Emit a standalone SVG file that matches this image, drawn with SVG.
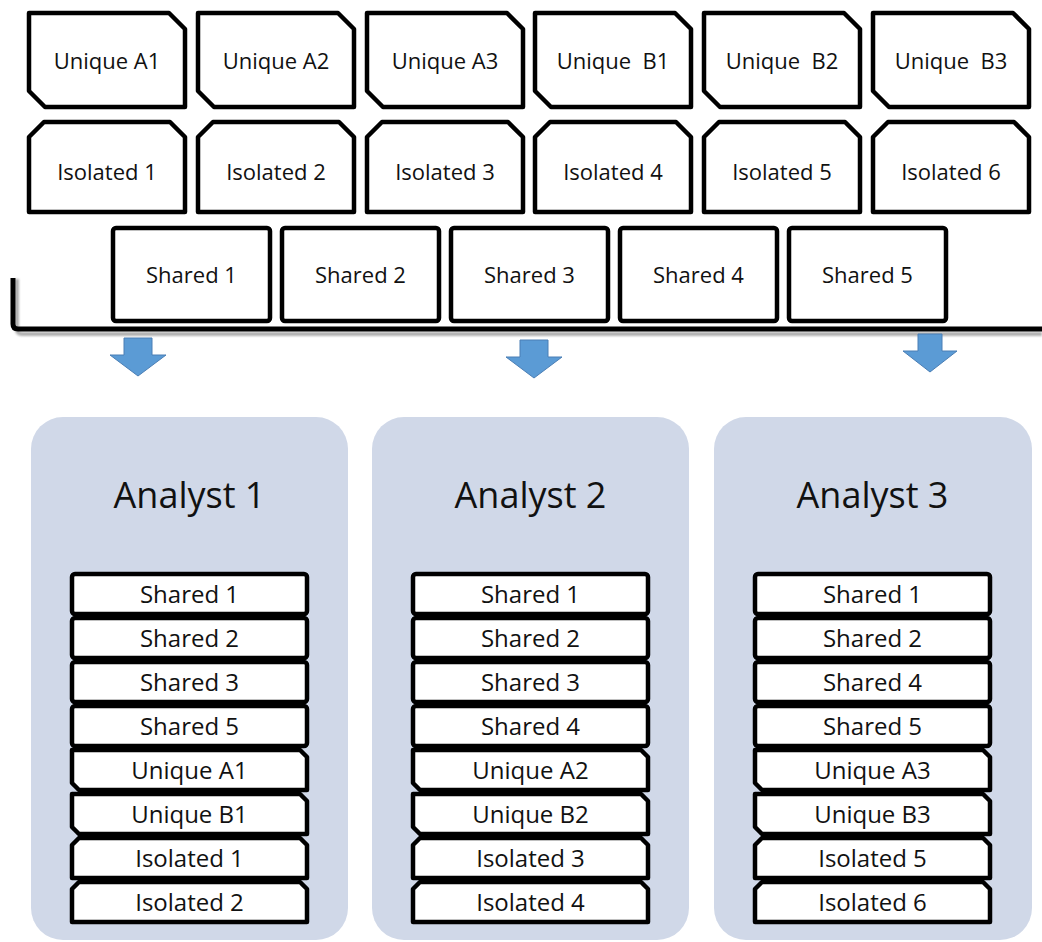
<svg xmlns="http://www.w3.org/2000/svg" width="1042" height="942" viewBox="0 0 1042 942">
<style>
text{font-family:"Open Sans","Liberation Sans",sans-serif;fill:#111;text-anchor:middle;white-space:pre}
.b{fill:#fff;stroke:#000;stroke-width:4.5;stroke-linejoin:round}
.li{fill:#fff;stroke:#000;stroke-width:4.5;stroke-linejoin:round}
.t{font-size:22px}
.lt{font-size:24px}
.h{font-size:36px}
.panel{fill:#D0D8E8}
.arr{fill:#5B9BD5;stroke:#4A7EB5;stroke-width:1}
</style>
<defs>
<filter id="sh" x="-5%" y="-50%" width="110%" height="300%"><feGaussianBlur stdDeviation="1.2"/></filter>
</defs>
<!-- top rows -->
<g id="unique-a1"><path class="b" d="M29,13 H169 L185,29 V107 H45 L29,91 Z"/><text class="t" x="107" y="69">Unique A1</text></g>
<g id="unique-a2"><path class="b" d="M198,13 H338 L354,29 V107 H214 L198,91 Z"/><text class="t" x="276" y="69">Unique A2</text></g>
<g id="unique-a3"><path class="b" d="M367,13 H507 L523,29 V107 H383 L367,91 Z"/><text class="t" x="445" y="69">Unique A3</text></g>
<g id="unique-b1"><path class="b" d="M535,13 H675 L691,29 V107 H551 L535,91 Z"/><text class="t" x="613" y="69">Unique  B1</text></g>
<g id="unique-b2"><path class="b" d="M704,13 H844 L860,29 V107 H720 L704,91 Z"/><text class="t" x="782" y="69">Unique  B2</text></g>
<g id="unique-b3"><path class="b" d="M873,13 H1013 L1029,29 V107 H889 L873,91 Z"/><text class="t" x="951" y="69">Unique  B3</text></g>

<g id="isolated-1"><path class="b" d="M29,137 L44,122 H170 L185,137 V212 H29 Z"/><text class="t" x="107" y="180">Isolated 1</text></g>
<g id="isolated-2"><path class="b" d="M198,137 L213,122 H339 L354,137 V212 H198 Z"/><text class="t" x="276" y="180">Isolated 2</text></g>
<g id="isolated-3"><path class="b" d="M367,137 L382,122 H508 L523,137 V212 H367 Z"/><text class="t" x="445" y="180">Isolated 3</text></g>
<g id="isolated-4"><path class="b" d="M535,137 L550,122 H676 L691,137 V212 H535 Z"/><text class="t" x="613" y="180">Isolated 4</text></g>
<g id="isolated-5"><path class="b" d="M704,137 L719,122 H845 L860,137 V212 H704 Z"/><text class="t" x="782" y="180">Isolated 5</text></g>
<g id="isolated-6"><path class="b" d="M873,137 L888,122 H1014 L1029,137 V212 H873 Z"/><text class="t" x="951" y="180">Isolated 6</text></g>

<g id="shared-1"><rect class="b" x="113" y="228" width="157" height="93" rx="3"/><text class="t" x="191.5" y="283">Shared 1</text></g>
<g id="shared-2"><rect class="b" x="282" y="228" width="157" height="93" rx="3"/><text class="t" x="360.5" y="283">Shared 2</text></g>
<g id="shared-3"><rect class="b" x="451" y="228" width="157" height="93" rx="3"/><text class="t" x="529.5" y="283">Shared 3</text></g>
<g id="shared-4"><rect class="b" x="620" y="228" width="157" height="93" rx="3"/><text class="t" x="698.5" y="283">Shared 4</text></g>
<g id="shared-5"><rect class="b" x="789" y="228" width="157" height="93" rx="3"/><text class="t" x="867.5" y="283">Shared 5</text></g>

<!-- bracket and arrows -->
<g id="connectors">
<path d="M17,279 V329 Q17,334 22,334 H1042" fill="none" stroke="#9a9a9a" stroke-width="4" filter="url(#sh)" opacity="0.8"/>
<path d="M13,278 V324 Q13,329 18,329 H1042" fill="none" stroke="#000" stroke-width="5"/>
<path class="arr" d="M124,338 H152 V355 H166 L138,376 L110,355 H124 Z"/>
<path class="arr" d="M520,340 H548 V357 H562 L534,378 L506,357 H520 Z"/>
<path class="arr" d="M918,334 H942 V351 H957 L930,372 L903,351 H918 Z"/>
</g>

<!-- Analyst 1 -->
<g id="analyst-1">
<rect class="panel" x="31" y="417" width="317" height="523" rx="32"/>
<text class="h" x="189.5" y="508">Analyst 1</text>
<rect class="li" x="72" y="574" width="235" height="40" rx="3"/><text class="lt" x="189.5" y="603">Shared 1</text>
<rect class="li" x="72" y="618" width="235" height="40" rx="3"/><text class="lt" x="189.5" y="647">Shared 2</text>
<rect class="li" x="72" y="662" width="235" height="40" rx="3"/><text class="lt" x="189.5" y="691">Shared 3</text>
<rect class="li" x="72" y="706" width="235" height="40" rx="3"/><text class="lt" x="189.5" y="735">Shared 5</text>
<path class="li" d="M72,750 H300 L307,757 V790 H79 L72,783 Z"/><text class="lt" x="189.5" y="779">Unique A1</text>
<path class="li" d="M72,794 H300 L307,801 V834 H79 L72,827 Z"/><text class="lt" x="189.5" y="823">Unique B1</text>
<path class="li" d="M72,845 L79,838 H300 L307,845 V878 H72 Z"/><text class="lt" x="189.5" y="867">Isolated 1</text>
<path class="li" d="M72,889 L79,882 H300 L307,889 V922 H72 Z"/><text class="lt" x="189.5" y="911">Isolated 2</text>
</g>

<!-- Analyst 2 -->
<g id="analyst-2">
<rect class="panel" x="372" y="417" width="317" height="523" rx="32"/>
<text class="h" x="530.5" y="508">Analyst 2</text>
<rect class="li" x="413" y="574" width="235" height="40" rx="3"/><text class="lt" x="530.5" y="603">Shared 1</text>
<rect class="li" x="413" y="618" width="235" height="40" rx="3"/><text class="lt" x="530.5" y="647">Shared 2</text>
<rect class="li" x="413" y="662" width="235" height="40" rx="3"/><text class="lt" x="530.5" y="691">Shared 3</text>
<rect class="li" x="413" y="706" width="235" height="40" rx="3"/><text class="lt" x="530.5" y="735">Shared 4</text>
<path class="li" d="M413,750 H641 L648,757 V790 H420 L413,783 Z"/><text class="lt" x="530.5" y="779">Unique A2</text>
<path class="li" d="M413,794 H641 L648,801 V834 H420 L413,827 Z"/><text class="lt" x="530.5" y="823">Unique B2</text>
<path class="li" d="M413,845 L420,838 H641 L648,845 V878 H413 Z"/><text class="lt" x="530.5" y="867">Isolated 3</text>
<path class="li" d="M413,889 L420,882 H641 L648,889 V922 H413 Z"/><text class="lt" x="530.5" y="911">Isolated 4</text>
</g>

<!-- Analyst 3 -->
<g id="analyst-3">
<rect class="panel" x="714" y="417" width="318" height="523" rx="32"/>
<text class="h" x="872.5" y="508">Analyst 3</text>
<rect class="li" x="755" y="574" width="235" height="40" rx="3"/><text class="lt" x="872.5" y="603">Shared 1</text>
<rect class="li" x="755" y="618" width="235" height="40" rx="3"/><text class="lt" x="872.5" y="647">Shared 2</text>
<rect class="li" x="755" y="662" width="235" height="40" rx="3"/><text class="lt" x="872.5" y="691">Shared 4</text>
<rect class="li" x="755" y="706" width="235" height="40" rx="3"/><text class="lt" x="872.5" y="735">Shared 5</text>
<path class="li" d="M755,750 H983 L990,757 V790 H762 L755,783 Z"/><text class="lt" x="872.5" y="779">Unique A3</text>
<path class="li" d="M755,794 H983 L990,801 V834 H762 L755,827 Z"/><text class="lt" x="872.5" y="823">Unique B3</text>
<path class="li" d="M755,845 L762,838 H983 L990,845 V878 H755 Z"/><text class="lt" x="872.5" y="867">Isolated 5</text>
<path class="li" d="M755,889 L762,882 H983 L990,889 V922 H755 Z"/><text class="lt" x="872.5" y="911">Isolated 6</text>
</g>
</svg>
